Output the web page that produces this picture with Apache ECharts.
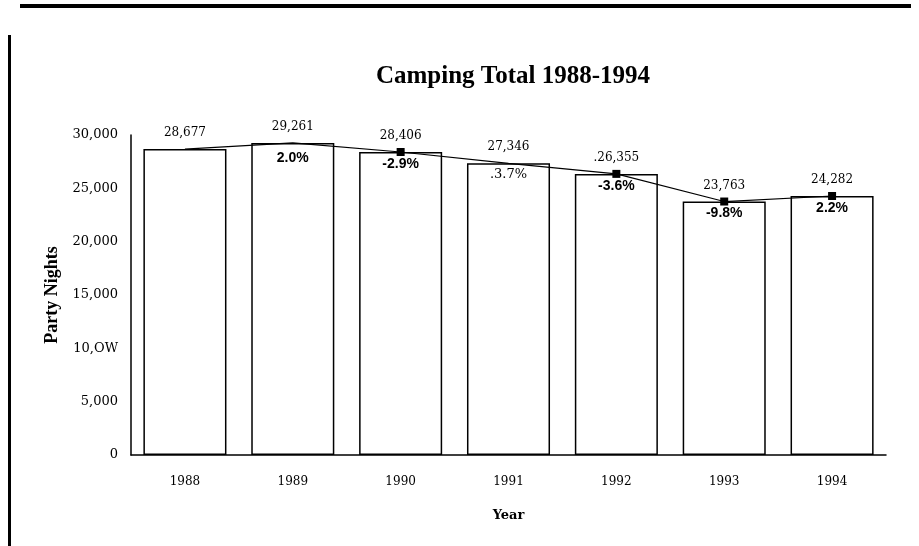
<!DOCTYPE html>
<html>
<head>
<meta charset="utf-8">
<script src="https://cdn.jsdelivr.net/npm/echarts@6/dist/echarts.min.js"></script>
<style>
  html, body { margin: 0; padding: 0; background: #fff; }
  #main { width: 919px; height: 546px; }
</style>
</head>
<body>
<div id="main"></div>
<script>
// data
var years = ['1988', '1989', '1990', '1991', '1992', '1993', '1994'];
var partyNights = [28677, 29261, 28406, 27346, 26355, 23763, 24282];
var valueLabels = ['28,677', '29,261', '28,406', '27,346', '.26,355', '23,763', '24,282'];
var changeLabels = ['', '2.0%', '-2.9%', '.3.7%', '-3.6%', '-9.8%', '2.2%'];
var yTickLabels = ['0', '5,000', '10,OW', '15,000', '20,000', '25,000', '30,000'];
var showMarker = [false, false, true, false, true, true, true];

var serif = '"Liberation Serif", "DejaVu Serif", serif';
var wideSerif = '"DejaVu Serif", "Liberation Serif", serif';

var chart = echarts.init(document.getElementById('main'));

var barData = partyNights.map(function (v, i) {
    return {
        value: v,
        label: {
            show: changeLabels[i] !== '',
            formatter: changeLabels[i],
            fontWeight: i === 3 ? 'normal' : 'bold',
            fontFamily: i === 3 ? wideSerif : '"Liberation Sans", sans-serif',
            fontSize: i === 3 ? 13 : 14,
            distance: i === 1 ? 8 : 5
        }
    };
});

var lineData = partyNights.map(function (v, i) {
    return {
        value: v,
        itemStyle: { color: showMarker[i] ? '#000' : 'rgba(0,0,0,0)' },
        label: {
            show: true,
            formatter: valueLabels[i]
        }
    };
});

chart.setOption({
    animation: false,
    backgroundColor: '#fff',
    title: {
        text: 'Camping Total 1988-1994',
        left: 508,
        textAlign: 'center',
        top: 59,
        textStyle: {
            fontFamily: serif,
            fontWeight: 'bold',
            fontSize: 25,
            color: '#000'
        }
    },
    grid: {
        left: 131,
        right: 33,
        top: 135,
        bottom: 91
    },
    xAxis: {
        type: 'category',
        data: years,
        name: 'Year',
        nameLocation: 'middle',
        nameGap: 54,
        nameTextStyle: {
            fontFamily: wideSerif,
            fontWeight: 'bold',
            fontSize: 13,
            color: '#000'
        },
        axisLine: { lineStyle: { color: '#000', width: 1.5 } },
        axisTick: { show: false },
        axisLabel: {
            margin: 21,
            fontFamily: wideSerif,
            fontSize: 12,
            color: '#000'
        }
    },
    yAxis: {
        type: 'value',
        min: 0,
        max: 30000,
        interval: 5000,
        name: 'Party Nights',
        nameLocation: 'middle',
        nameGap: 70,
        nameTextStyle: {
            fontFamily: serif,
            fontWeight: 'bold',
            fontSize: 18,
            color: '#000'
        },
        splitLine: { show: false },
        axisLine: { show: true, lineStyle: { color: '#000', width: 1.5 } },
        axisTick: { show: false },
        axisLabel: {
            margin: 13,
            fontFamily: wideSerif,
            fontSize: 13,
            color: '#000',
            formatter: function (v) {
                return yTickLabels[Math.round(v / 5000)];
            }
        }
    },
    series: [
        {
            type: 'bar',
            data: barData,
            barCategoryGap: '23%',
            itemStyle: {
                color: '#fff',
                borderColor: '#000',
                borderWidth: 1.5
            },
            label: {
                position: 'insideTop',
                color: '#000'
            }
        },
        {
            type: 'line',
            data: lineData,
            symbol: 'rect',
            symbolSize: 8,
            lineStyle: { color: '#000', width: 1.2 },
            label: {
                position: 'top',
                distance: 6,
                fontFamily: wideSerif,
                fontSize: 12,
                color: '#000'
            },
            labelLayout: { hideOverlap: false },
            z: 3
        }
    ],
    graphic: [
        {
            type: 'rect',
            shape: { x: 20, y: 4, width: 891, height: 4 },
            style: { fill: '#000' }
        },
        {
            type: 'rect',
            shape: { x: 8, y: 35, width: 3, height: 511 },
            style: { fill: '#000' }
        }
    ]
});
</script>
</body>
</html>
